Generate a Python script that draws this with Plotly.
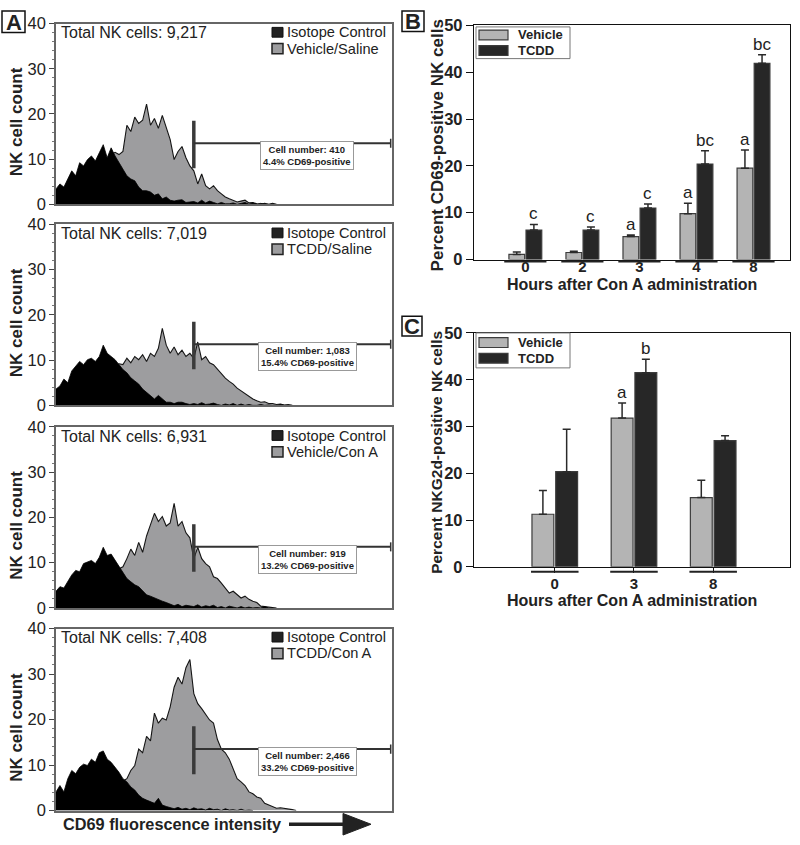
import numpy as np
import plotly.graph_objects as go

W, H = 800, 845
FONT = "Liberation Sans, Arial, sans-serif"


def px(x):
    return x / W


def py(y):
    return 1 - y / H


# ---------------- Panel A : flow cytometry histograms ----------------
channel_step = 3          # fluorescence channels per stored bin
channel_max = 256
treatments = ["Vehicle/Saline", "TCDD/Saline", "Vehicle/Con A", "TCDD/Con A"]
total_cells = ["9,217", "7,019", "6,931", "7,408"]
cell_numbers = ["410", "1,083", "919", "2,466"]
percent_pos = ["4.4%", "15.4%", "13.2%", "33.2%"]

iso_vehicle_saline = [3.4, 4.5, 3.8, 5.6, 7.4, 6.3, 9.2, 8.5, 9.9, 10.7, 9.6, 11.4, 13.2, 10.3, 12.5, 10.7,
                      9.2, 7.8, 6.3, 5.6, 5.2, 3.8, 3.0, 3.0, 2.7, 2.0, 2.3, 1.2, 1.6, 0.9, 0.7, 0.9, 1.0,
                      0.4, 0.5, 0.6, 0.3, 0.9, 0.3, 0.7, 0.4, 0.1, 0.4, 0.1, 0.1, 0.3, 0, 0.2, 0.4, 0, 0.3,
                      0, 0.2, 0, 0]
cd69_vehicle_saline = [0.3, 0.5, 0.6, 1.0, 1.2, 1.6, 2.0, 2.6, 3.2, 3.8, 4.6, 5.6, 7.5, 10.0, 11.0, 11.5,
                       11.0, 11.7, 17.5, 16.1, 19.3, 17.9, 18.6, 22.2, 17.5, 19.0, 16.8, 19.7, 17.2, 14.3,
                       9.9, 11.7, 12.8, 10.3, 8.5, 7.4, 4.5, 6.7, 4.1, 3.4, 4.1, 3.0, 2.3, 1.6, 1.2, 0.9,
                       0.5, 0.7, 0.9, 0.3, 0.4, 0.1, 0, 0.2, 0, 0.2, 0]

iso_tcdd_saline = [3.6, 4.3, 5.8, 5.0, 7.6, 8.6, 9.7, 9.0, 10.1, 10.4, 9.7, 10.8, 13.3, 11.5, 10.8, 10.1,
                   9.0, 7.9, 7.2, 6.1, 5.4, 4.7, 3.6, 2.9, 2.2, 1.4, 2.2, 1.4, 0.7, 0.7, 0.4, 0.7, 0.7,
                   0.4, 0.2, 0.4, 0.2, 0.6, 0.2, 0.3, 0.5, 0.2, 0, 0.3, 0.1, 0.4, 0, 0.3, 0, 0.2, 0, 0,
                   0.2, 0, 0.1, 0, 0, 0.2, 0, 0]
cd69_tcdd_saline = [0.3, 0.5, 0.8, 1.0, 1.4, 1.8, 2.2, 2.8, 3.4, 4.0, 4.8, 5.6, 6.4, 7.2, 8.0, 8.8, 9.2,
                    9.0, 10.4, 9.4, 10.8, 10.1, 11.2, 9.7, 11.5, 10.8, 12.6, 17.0, 13.3, 11.5, 12.9, 11.2,
                    12.2, 10.8, 11.5, 10.4, 14.0, 10.1, 10.8, 9.4, 9.0, 8.0, 7.0, 6.0, 5.3, 4.7, 3.8, 3.2,
                    2.6, 1.9, 1.4, 1.0, 0.7, 0.8, 0.4, 0.4, 0.2, 0.3, 0.1, 0.2, 0]

iso_vehicle_cona = [3.7, 4.7, 4.4, 5.8, 7.3, 8.3, 8.0, 9.8, 10.1, 10.5, 9.8, 11.2, 13.4, 11.6, 11.9, 10.5,
                    9.4, 8.0, 6.5, 5.8, 5.1, 4.7, 3.7, 2.9, 2.6, 2.2, 1.9, 1.5, 1.2, 0.8, 0.5, 0.8, 0.3,
                    0.6, 0.4, 0.3, 0.7, 0.2, 0.5, 0.3, 0.6, 0.1, 0.3, 0, 0.4, 0.2, 0, 0.3, 0, 0.2, 0, 0.1,
                    0, 0.3, 0, 0]
cd69_vehicle_cona = [0.3, 0.5, 0.7, 1.0, 1.3, 1.7, 2.2, 2.7, 3.3, 3.9, 4.6, 5.4, 6.2, 7.0, 7.6, 8.2, 8.6,
                     9.1, 10.9, 13.0, 11.6, 14.5, 12.3, 15.9, 18.4, 20.9, 19.1, 20.2, 18.1, 18.8, 23.1,
                     18.1, 19.1, 16.6, 15.5, 10.9, 13.4, 10.9, 9.8, 9.1, 6.9, 6.5, 5.5, 4.4, 3.3, 3.7, 2.9,
                     2.2, 2.6, 1.9, 1.5, 1.2, 0.4, 0.3, 0.2, 0, 0]

iso_tcdd_cona = [4.1, 5.5, 4.1, 7.0, 8.8, 8.1, 9.5, 10.2, 9.9, 11.3, 10.6, 12.7, 13.1, 11.3, 10.6, 9.5, 8.4,
                 7.0, 6.3, 5.2, 4.5, 3.4, 2.7, 2.3, 1.9, 1.6, 2.7, 1.2, 0.9, 0.6, 0.4, 0.7, 0.3, 0.5, 0.2,
                 0.6, 0.3, 0.4, 0.1, 0.5, 0.2, 0.3, 0, 0.4, 0.1, 0.2, 0, 0.3, 0, 0.1, 0]
cd69_tcdd_cona = [0.3, 0.5, 0.7, 1.0, 1.3, 1.7, 2.2, 2.7, 3.2, 3.8, 4.4, 5.0, 5.6, 6.2, 6.7, 7.0, 7.2, 6.5,
                  7.0, 8.8, 9.9, 13.5, 12.7, 16.3, 15.3, 21.4, 19.2, 20.3, 19.9, 22.8, 27.1, 29.3, 27.8,
                  31.4, 33.2, 25.7, 23.5, 22.4, 21.0, 19.9, 19.2, 15.6, 13.5, 12.7, 11.3, 9.1, 7.0, 6.3,
                  5.5, 4.1, 3.7, 3.0, 2.7, 1.6, 1.2, 0.9, 0.5, 0.6, 0.5, 0.3, 0.2, 0]

isotype_series = [iso_vehicle_saline, iso_tcdd_saline, iso_vehicle_cona, iso_tcdd_cona]
cd69_series = [cd69_vehicle_saline, cd69_tcdd_saline, cd69_vehicle_cona, cd69_tcdd_cona]

gate_channel = 105
gate_low, gate_high = 8, 18.5
gate_level = 13.5
gate_end = 255
label_channel = 191.5
label_level = 10.7

# ---------------- Panel B : CD69 bars ----------------
b_hours = ["0", "2", "3", "4", "8"]
b_vehicle = [1.1, 1.5, 4.9, 9.8, 19.5]
b_vehicle_err = [0.5, 0.25, 0.35, 2.2, 3.9]
b_tcdd = [6.3, 6.3, 11.0, 20.4, 41.9]
b_tcdd_err = [1.2, 0.65, 0.85, 2.8, 1.8]
b_vehicle_sig = ["", "", "a", "a", "a"]
b_tcdd_sig = ["c", "c", "c", "bc", "bc"]

# ---------------- Panel C : NKG2d bars ----------------
c_hours = ["0", "3", "8"]
c_vehicle = [11.25, 31.8, 14.8]
c_vehicle_err = [5.05, 3.2, 3.7]
c_tcdd = [20.35, 41.5, 27.0]
c_tcdd_err = [9.05, 2.9, 1.0]
c_vehicle_sig = ["", "a", ""]
c_tcdd_sig = ["", "b", ""]

VEH_COLOR = "#b4b4b4"
TCDD_COLOR = "#272727"
GRAY_HIST = "#9d9d9f"

fig = go.Figure()
shapes = []
annotations = []

# histogram panel geometry (pixel top / bottom of each plot area)
hist_tops = [15, 220, 427, 633]
hist_bottoms = [199.5, 405, 612, 819]
hx0, hx1 = 56, 392

layout_axes = {}
for i in range(4):
    n = i + 1
    xa, ya = f"x{n}", f"y{n}"
    ch_cd = np.arange(len(cd69_series[i])) * channel_step
    ch_iso = np.arange(len(isotype_series[i])) * channel_step
    fig.add_trace(go.Scatter(x=ch_cd, y=cd69_series[i], mode="lines",
                             line=dict(color="#151515", width=1.1), fill="tozeroy",
                             fillcolor=GRAY_HIST, xaxis=xa, yaxis=ya, showlegend=False,
                             hoverinfo="skip"))
    fig.add_trace(go.Scatter(x=ch_iso, y=isotype_series[i], mode="lines",
                             line=dict(color="#000", width=0.8), fill="tozeroy",
                             fillcolor="#000", xaxis=xa, yaxis=ya, showlegend=False,
                             hoverinfo="skip"))
    sfx = "" if n == 1 else str(n)
    layout_axes[f"xaxis{sfx}"] = dict(domain=[px(hx0), px(hx1)], range=[0, channel_max],
                                      anchor=ya, showline=True, mirror=True, linecolor="#666",
                                      linewidth=1.5, showticklabels=False, ticks="",
                                      showgrid=False, zeroline=False, fixedrange=True)
    layout_axes[f"yaxis{sfx}"] = dict(domain=[py(hist_bottoms[i]), py(hist_tops[i])],
                                      range=[0, 40], anchor=xa, showline=True, mirror=True,
                                      linecolor="#666", linewidth=1.5, ticks="outside", ticklen=5,
                                      tickwidth=1.3, tickcolor="#444", tickvals=[0, 10, 20, 30, 40],
                                      tickfont=dict(size=16.5, color="#222", family=FONT),
                                      minor=dict(ticks="outside", ticklen=2.5, dtick=2,
                                                 tickcolor="#777", tickwidth=1),
                                      showgrid=False, zeroline=False, fixedrange=True)
    # gate marker
    shapes.append(dict(type="line", xref=xa, yref=ya, x0=gate_channel, x1=gate_channel,
                       y0=gate_low, y1=gate_high, line=dict(color="#3a3a3a", width=3.5)))
    shapes.append(dict(type="line", xref=xa, yref=ya, x0=gate_channel, x1=gate_end,
                       y0=gate_level, y1=gate_level, line=dict(color="#333", width=2)))
    shapes.append(dict(type="line", xref=xa, yref=ya, x0=gate_end, x1=gate_end,
                       y0=gate_level - 1, y1=gate_level + 1, line=dict(color="#333", width=1.5)))
    annotations.append(dict(xref=xa, yref=ya, x=label_channel, y=label_level,
                            text=f"Cell number: {cell_numbers[i]}<br>{percent_pos[i]} CD69-positive",
                            showarrow=False, font=dict(size=9.5, family=FONT, color="#222", weight="bold"),
                            bgcolor="white", bordercolor="#999", borderwidth=1, borderpad=2))
    T = hist_tops[i]
    # top-left text
    annotations.append(dict(xref="paper", yref="paper", x=px(59), y=py(T + 9.5), xanchor="left",
                            yanchor="middle", showarrow=False,
                            text=f"Total NK cells: {total_cells[i]}",
                            font=dict(size=16, family=FONT, color="#222")))
    # legend
    l1, l2 = T + 8.8, T + 25.5
    shapes.append(dict(type="rect", xref="paper", yref="paper", x0=px(272), x1=px(283),
                       y0=py(l1 + 5), y1=py(l1 - 5), fillcolor="#222",
                       line=dict(color="#111", width=1)))
    shapes.append(dict(type="rect", xref="paper", yref="paper", x0=px(272), x1=px(283),
                       y0=py(l2 + 5.3), y1=py(l2 - 5.3), fillcolor=GRAY_HIST,
                       line=dict(color="#222", width=1.5)))
    annotations.append(dict(xref="paper", yref="paper", x=px(284.5), y=py(l1), xanchor="left",
                            yanchor="middle", showarrow=False, text="Isotope Control",
                            font=dict(size=14.6, family=FONT, color="#222")))
    annotations.append(dict(xref="paper", yref="paper", x=px(284.5), y=py(l2), xanchor="left",
                            yanchor="middle", showarrow=False, text=treatments[i],
                            font=dict(size=14.6, family=FONT, color="#222")))
    # y-axis title
    annotations.append(dict(xref="paper", yref="paper", x=px(16.5), y=py((T + hist_bottoms[i]) / 2 + 8),
                            xanchor="center", yanchor="middle", showarrow=False, textangle=-90,
                            text="NK cell count",
                            font=dict(size=17, family=FONT, color="#222", weight="bold")))

# x-axis title + arrow for panel A
annotations.append(dict(xref="paper", yref="paper", x=px(172), y=py(833), xanchor="center",
                        yanchor="middle", showarrow=False, text="CD69 fluorescence intensity",
                        font=dict(size=16.3, family=FONT, color="#222", weight="bold")))
shapes.append(dict(type="line", xref="paper", yref="paper", x0=px(289), x1=px(346),
                   y0=py(833), y1=py(833), line=dict(color="#222", width=3.5)))
shapes.append(dict(type="path", xref="paper", yref="paper",
                   path=f"M {px(343)},{py(822)} L {px(371)},{py(833)} L {px(343)},{py(844)} Z",
                   fillcolor="#222", line=dict(color="#222", width=1)))

# ---------------- bar panels ----------------
def bar_panel(n, cats, veh, veh_err, tcd, tcd_err, veh_sig, tcd_sig, top, bottom, xr,
              under_half, under_y, ytitle, ytitle_size, ticklen_x, tickstandoff):
    xa, ya = f"x{n}", f"y{n}"
    fig.add_trace(go.Bar(x=cats, y=veh, name="Vehicle", xaxis=xa, yaxis=ya, showlegend=False,
                         marker=dict(color=VEH_COLOR, line=dict(color="#3c3c3c", width=1.2)),
                         error_y=dict(type="data", symmetric=False, array=veh_err,
                                      arrayminus=[0] * len(veh), color="#2a2a2a",
                                      thickness=1.5, width=4)))
    fig.add_trace(go.Bar(x=cats, y=tcd, name="TCDD", xaxis=xa, yaxis=ya, showlegend=False,
                         marker=dict(color=TCDD_COLOR, line=dict(color="#3c3c3c", width=1.2)),
                         error_y=dict(type="data", symmetric=False, array=tcd_err,
                                      arrayminus=[0] * len(tcd), color="#2a2a2a",
                                      thickness=1.5, width=4)))
    layout_axes[f"xaxis{n}"] = dict(domain=[px(474), px(790)], range=xr, anchor=ya, type="category",
                                    showline=True, mirror=True, linecolor="#111", linewidth=1.4,
                                    ticks="outside" if ticklen_x else "", ticklen=ticklen_x,
                                    tickcolor="#111", ticklabelstandoff=tickstandoff,
                                    tickfont=dict(size=15, family=FONT, color="#222", weight="bold"),
                                    showgrid=False, zeroline=False, fixedrange=True)
    layout_axes[f"yaxis{n}"] = dict(domain=[py(bottom), py(top)], range=[0, 50], anchor=xa,
                                    showline=True, mirror=True, linecolor="#111", linewidth=1.4,
                                    ticks="outside", ticklen=7, tickwidth=1.3, tickcolor="#111",
                                    dtick=10,
                                    tickfont=dict(size=16.5, family=FONT, color="#222", weight="bold"),
                                    showgrid=False, zeroline=False, fixedrange=True)
    for i in range(len(cats)):
        shapes.append(dict(type="line", xref=xa, yref="paper", x0=i - under_half, x1=i + under_half,
                           y0=py(under_y), y1=py(under_y), line=dict(color="#222", width=2)))
        for off, val, err, sig in ((-0.15, veh[i], veh_err[i], veh_sig[i]),
                                   (0.15, tcd[i], tcd_err[i], tcd_sig[i])):
            if sig:
                annotations.append(dict(xref=xa, yref=ya, x=i + off, y=val + err, yanchor="bottom",
                                        xanchor="center", showarrow=False, text=sig, yshift=-1,
                                        font=dict(size=17, family=FONT, color="#222")))
    annotations.append(dict(xref="paper", yref="paper", x=px(437), y=py((top + bottom) / 2 + 3),
                            textangle=-90, showarrow=False, text=ytitle, xanchor="center",
                            yanchor="middle",
                            font=dict(size=ytitle_size, family=FONT, color="#222", weight="bold")))


bar_panel(5, b_hours, b_vehicle, b_vehicle_err, b_tcdd, b_tcdd_err, b_vehicle_sig, b_tcdd_sig,
          16.7, 256, [-0.9, 4.64], 0.37, 258, "Percent CD69-positive NK cells", 17, 0, -7)
bar_panel(6, c_hours, c_vehicle, c_vehicle_err, c_tcdd, c_tcdd_err, c_vehicle_sig, c_tcdd_sig,
          331, 570, [-1.02, 2.97], 0.3, 575, "Percent NKG2d-positive NK cells", 15.5, 5, -2)

for yc in (281, 604):
    annotations.append(dict(xref="paper", yref="paper", x=px(632), y=py(yc), xanchor="center",
                            yanchor="middle", showarrow=False, text="Hours after Con A administration",
                            font=dict(size=16, family=FONT, color="#222", weight="bold")))

# manual legends for B and C
for (bx0, by0, bx1, by1) in ((476, 18.3, 570, 50.7), (476, 331, 570, 366.7)):
    shapes.append(dict(type="rect", xref="paper", yref="paper", x0=px(bx0), x1=px(bx1),
                       y0=py(by1), y1=py(by0), fillcolor="white", line=dict(color="#777", width=1),
                       layer="above"))
    mid = (by0 + by1) / 2
    for k, (lbl, col) in enumerate((("Vehicle", VEH_COLOR), ("TCDD", TCDD_COLOR))):
        yc = mid - 8 + 16 * k
        shapes.append(dict(type="rect", xref="paper", yref="paper", x0=px(479), x1=px(508),
                           y0=py(yc + 5), y1=py(yc - 5), fillcolor=col,
                           line=dict(color="#3c3c3c", width=1.2), layer="above"))
        annotations.append(dict(xref="paper", yref="paper", x=px(516), y=py(yc), xanchor="left",
                                yanchor="middle", showarrow=False, text=lbl,
                                font=dict(size=13, family=FONT, color="#222", weight="bold")))

# panel letters
for lbl, (x0, y0, x1, y1) in (("A", (2, 2, 25, 24)), ("B", (402, 2, 424, 23)), ("C", (402, 314, 422, 334))):
    shapes.append(dict(type="rect", xref="paper", yref="paper", x0=px(x0), x1=px(x1), y0=py(y1),
                       y1=py(y0), line=dict(color="#111", width=1.5), fillcolor="rgba(0,0,0,0)"))
    annotations.append(dict(xref="paper", yref="paper", x=px((x0 + x1) / 2), y=py((y0 + y1) / 2 + 0.5),
                            xanchor="center", yanchor="middle", showarrow=False, text=lbl,
                            font=dict(size=22, family=FONT, color="#222", weight="bold")))

fig.update_layout(width=W, height=H, margin=dict(l=0, r=0, t=0, b=0), plot_bgcolor="white",
                  paper_bgcolor="white", barmode="group", bargap=0.4, bargroupgap=0.08,
                  shapes=shapes, annotations=annotations, showlegend=False,
                  font=dict(family=FONT), **layout_axes)

fig.write_html("out.html", post_script="document.body.style.margin='0';",
               config={"displayModeBar": False})
